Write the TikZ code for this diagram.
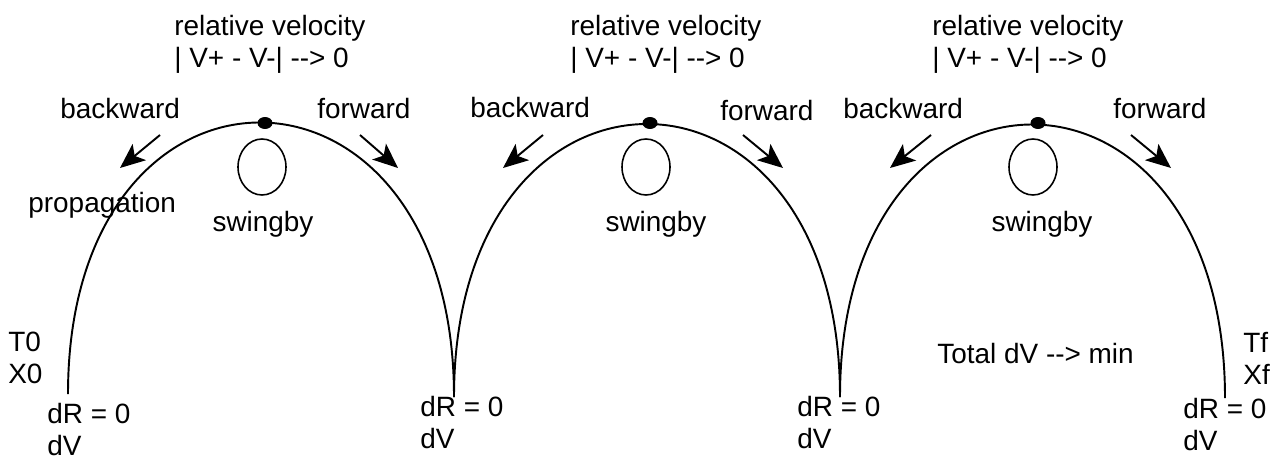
\documentclass[tikz,border=0pt]{standalone}
\usepackage{fontspec}
\setmainfont{Liberation Sans}
\usepackage{tikz}
\usetikzlibrary{arrows.meta, shapes.geometric}

% keeps "-->" from turning into an en dash
\newcommand{\ddarr}{-\kern0pt-\kern0pt>}

\begin{document}
\begin{tikzpicture}[
  x=0.02cm, y=-0.02cm,
  font=\fontsize{15.9}{18.2}\selectfont,
  orbit/.style={line width=1.1pt},
  dirarr/.style={-{Stealth[length=0.5cm, width=0.42cm, inset=0.12cm]}, line width=1.1pt},
  planet/.style={ellipse, draw, line width=0.9pt, minimum width=0.96cm,
                 minimum height=1.12cm, inner sep=0pt},
  craft/.style={ellipse, fill, minimum width=0.3cm, minimum height=0.24cm, inner sep=0pt},
  lbl/.style={inner sep=0pt, align=left},
]
\useasboundingbox (0,0) rectangle (1281,456);

%% ARC END POINTS
\coordinate (e0) at (68,394);
\coordinate (e1) at (454,397);
\coordinate (e2) at (840,397);
\coordinate (e3) at (1225,398);

\foreach \a/\b in {e0/e1, e1/e2, e2/e3}
  \draw[orbit] (\a) .. controls +(0,-364) and +(0,-364) .. (\b);

%% SWINGBY POINTS
\node[craft] (sc1) at (265,123) {};
\node[craft] (sc2) at (650,123) {};
\node[craft] (sc3) at (1038,123) {};

\node[planet] (pl1) at (262,167) {};
\node[planet] (pl2) at (646,167) {};
\node[planet] (pl3) at (1033,167) {};

\node[lbl, anchor=base] (sw1) at (263,231) {swingby};
\node[lbl, anchor=base] (sw2) at (656,231) {swingby};
\node[lbl, anchor=base] (sw3) at (1042,231) {swingby};

%% RELATIVE VELOCITY
\node[lbl, anchor=north west] (rv1) at (174,15) {relative velocity\\| V+ - V-| \ddarr{} 0};
\node[lbl, anchor=north west] (rv2) at (570,15) {relative velocity\\| V+ - V-| \ddarr{} 0};
\node[lbl, anchor=north west] (rv3) at (932,15) {relative velocity\\| V+ - V-| \ddarr{} 0};

%% DIRECTIONS
\node[lbl, anchor=base west] (bw1) at (60,118)   {backward};
\node[lbl, anchor=base west] (fw1) at (317,118)  {forward};
\node[lbl, anchor=base west] (bw2) at (470,117)  {backward};
\node[lbl, anchor=base west] (fw2) at (720,120)  {forward};
\node[lbl, anchor=base west] (bw3) at (843,118)  {backward};
\node[lbl, anchor=base west] (fw3) at (1113,118) {forward};

\draw[dirarr] (160,135) -- (120,168);
\draw[dirarr] (360,135) -- (398,168);
\draw[dirarr] (543,135) -- (503,168);
\draw[dirarr] (743,135) -- (783,168);
\draw[dirarr] (931,135) -- (890,168);
\draw[dirarr] (1131,135) -- (1171,168);

\node[lbl, anchor=base west] (prop) at (28,212) {propagation};

%% BOUNDARY CONDITIONS
\node[lbl, anchor=north west] (t0) at (8,332)    {T0\\X0};
\node[lbl, anchor=north west] (tf) at (1243,332) {Tf\\Xf};

\node[lbl, anchor=north west] (dr0) at (47,403)   {dR = 0\\dV};
\node[lbl, anchor=north west] (dr1) at (420,396)  {dR = 0\\dV};
\node[lbl, anchor=north west] (dr2) at (797,396)  {dR = 0\\dV};
\node[lbl, anchor=north west] (dr3) at (1183,398) {dR = 0\\dV};

\node[lbl, anchor=base west] (total) at (937,363) {Total dV \ddarr{} min};

\end{tikzpicture}
\end{document}
